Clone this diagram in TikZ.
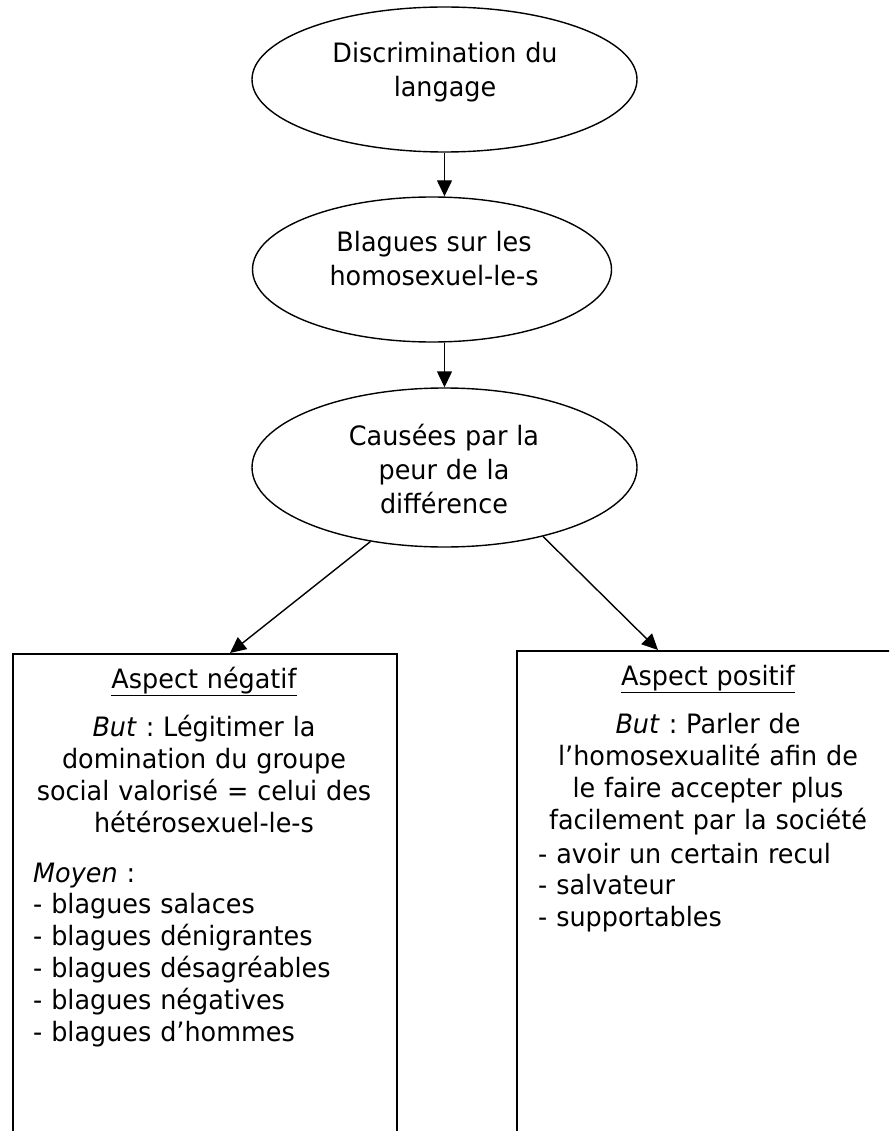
\documentclass[tikz,border=0pt]{standalone}
\usepackage{fontspec}
\setmainfont{DejaVu Sans}[FakeStretch=0.955]
\frenchspacing
\usetikzlibrary{shapes.geometric,arrows.meta}
\begin{document}
\begin{tikzpicture}[x=1pt,y=-1pt,
  bubble/.style={ellipse,draw,line width=1.4pt,inner sep=0pt},
  card/.style={rectangle,draw,line width=2pt,inner sep=0pt,anchor=north west,
    minimum height=600pt},
  flow/.style={line width=1.4pt,-{Triangle[length=16pt,width=15pt]}},
  bubbletext/.style={font=\fontsize{26.67}{34}\selectfont,inner sep=0pt,
    anchor=base,text width=360pt,align=center},
  cardtext/.style={font=\fontsize{26.67}{32.3}\selectfont,inner sep=0pt,
    anchor=base,text width=370pt,align=center},
  listtext/.style={font=\fontsize{26.67}{31.8}\selectfont,inner sep=0pt,
    anchor=base west,text width=350pt,align=left},
]
\clip (0,0) rectangle (889,1131);

% chain of ellipses
\node[bubble,minimum width=385pt,minimum height=145pt] (e1) at (444.5,79.5) {};
\node[bubble,minimum width=359pt,minimum height=145pt] (e2) at (432,269.5) {};
\node[bubble,minimum width=385pt,minimum height=159pt] (e3) at (444.5,467.5) {};

\node[bubbletext] (t1) at (445,63) {Discrimination du\\langage};
\node[bubbletext] (t2) at (434,252) {Blagues sur les\\homosexuel-le-s};
\node[bubbletext] (t3) at (444,445) {Causées par la\\peur de la\\différence};

% the two boxes, running past the lower edge
\node[card,minimum width=384pt] (neg) at (12,653) {};
\node[card,minimum width=400pt] (pos) at (516,650) {};

% connectors
\draw[flow] (e1.south) -- (e2.north -| e1.south);
\draw[flow] (e2.south -| e1.south) -- (e3.north);
\draw[flow] (e3.225.4) -- ([xshift=218pt]neg.north west);
\draw[flow] (e3.-35.5) -- ([xshift=142pt]pos.north west);

% negative side
\node[cardtext] (nh) at (204,688) {\underline{Aspect négatif}};
\node[cardtext] (nb) at (204,736) {\textit{But} : Légitimer la\\domination du groupe\\social valorisé = celui des\\hétérosexuel-le-s};
\node[listtext] (nl) at (33,882) {\textit{Moyen} :\\- blagues salaces\\- blagues dénigrantes\\- blagues désagréables\\- blagues négatives\\- blagues d’hommes};

% positive side
\node[cardtext] (ph) at (708,685) {\underline{Aspect positif}};
\node[cardtext] (pb) at (708,733) {\textit{But} : Parler de\\l’homosexualité afin de\\le faire accepter plus\\facilement par la société};
\node[listtext] (pl) at (538,863) {- avoir un certain recul\\- salvateur\\- supportables};
\end{tikzpicture}
\end{document}
